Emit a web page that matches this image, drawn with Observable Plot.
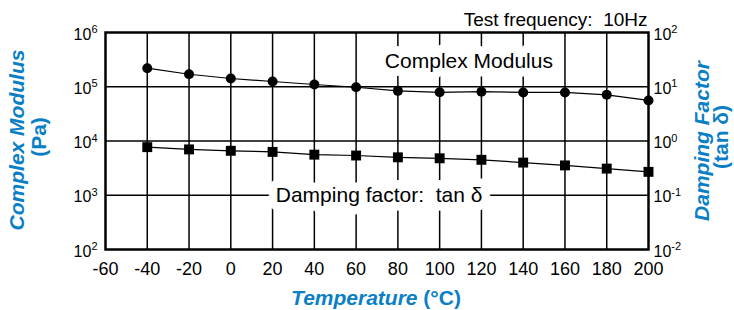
<!DOCTYPE html>
<html><head><meta charset="utf-8">
<script src="https://cdn.jsdelivr.net/npm/d3@7"></script>
<script src="https://cdn.jsdelivr.net/npm/@observablehq/plot@0.6"></script>
<style>body{margin:0;background:#fff;} svg{display:block;}</style>
</head><body><div id="chart"></div>
<script>
// ---- data ----
const temperatures = [-40, -20, 0, 20, 40, 60, 80, 100, 120, 140, 160, 180, 200];
const complexModulus = [2.2e5, 1.7e5, 1.42e5, 1.25e5, 1.1e5, 9.8e4, 8.4e4, 7.9e4, 8.1e4, 7.85e4, 7.85e4, 7.1e4, 5.6e4]; // Pa
const tanDelta = [0.77, 0.70, 0.66, 0.63, 0.56, 0.54, 0.50, 0.48, 0.45, 0.40, 0.355, 0.31, 0.27];
const xTicks = [-60, -40, -20, 0, 20, 40, 60, 80, 100, 120, 140, 160, 180, 200];
const xGrid = [-40, -20, 0, 20, 40, 60, 80, 100, 120, 140, 160, 180];
const modulusTicks = [1e2, 1e3, 1e4, 1e5, 1e6];
const yGrid = [1e3, 1e4, 1e5];
const tanDeltaOffset = 1e4; // right axis 10^-2..10^2 maps to left axis 10^2..10^6
const seriesLabels = [
  {text: "Complex Modulus", temperature: 114, value: 2.9e5},
  {text: "Damping factor:  tan \u03b4", temperature: 71, value: 1e3}
];
const noteText = "Test frequency:  10Hz";

const BLUE = "#0b7fc6";
const FONT = "'Liberation Sans', Arial, Helvetica, sans-serif";

const modulusData = temperatures.map((t, i) => ({t, v: complexModulus[i]}));
const dampingData = temperatures.map((t, i) => ({t, v: tanDelta[i] * tanDeltaOffset}));

const plot = Plot.plot({
  width: 734,
  height: 310,
  marginLeft: 105,
  marginRight: 86,
  marginTop: 32,
  marginBottom: 61,
  style: {fontFamily: FONT, fontSize: "16px", color: "#000", background: "#fff"},
  x: {domain: [-60, 200]},
  y: {type: "log", domain: [1e2, 1e6]},
  marks: [
    Plot.gridX(xGrid, {stroke: "#000", strokeOpacity: 1, strokeWidth: 1.5}),
    Plot.gridY(yGrid, {stroke: "#000", strokeOpacity: 1, strokeWidth: 1.5}),
    Plot.axisX({ticks: xTicks, tickSize: 0, tickPadding: 13, fontSize: 18, label: null, tickFormat: d => String(d)}),
    Plot.axisY({ticks: modulusTicks, tickSize: 0, tickPadding: 8, label: null, dy: 2,
      tickFormat: d => "10^" + Math.round(Math.log10(d))}),
    Plot.axisY({anchor: "right", ticks: modulusTicks, tickSize: 0, tickPadding: 5, label: null, dy: 2,
      tickFormat: d => "10^" + Math.round(Math.log10(d / tanDeltaOffset))}),
    Plot.text(seriesLabels, {x: "temperature", y: "value", text: "text", fontSize: 21,
      fill: "#000", stroke: "#fff", strokeWidth: 17}),
    Plot.line(modulusData, {x: "t", y: "v", stroke: "#000", strokeWidth: 1.2}),
    Plot.line(dampingData, {x: "t", y: "v", stroke: "#000", strokeWidth: 1.2}),
    Plot.dot(modulusData, {x: "t", y: "v", r: 5, fill: "#000", stroke: "none"}),
    Plot.dot(dampingData, {x: "t", y: "v", r: 5.6, symbol: "square", fill: "#000", stroke: "none"}),
    Plot.text([noteText], {frameAnchor: "top-right", text: d => d, textAnchor: "end", lineAnchor: "bottom",
      fontSize: 19, dy: -7, dx: -1}),
    Plot.frame({stroke: "#000", strokeWidth: 2.5})
  ]
});

// superscript exponents on the y tick labels
d3.select(plot).selectAll("text").each(function() {
  const s = this.textContent;
  if (!s.includes("^")) return;
  const [base, exp] = s.split("^");
  const t = d3.select(this);
  t.text(null);
  t.append("tspan").text(base);
  t.append("tspan").attr("font-size", 11).attr("dy", "-0.6em").text(exp);
});

const svg = d3.select(plot);
function title(x, y, rotate, parts) {
  const t = svg.append("text")
    .attr("transform", `translate(${x},${y})` + (rotate ? ` rotate(${rotate})` : ""))
    .attr("text-anchor", "middle")
    .attr("fill", BLUE)
    .attr("font-family", FONT)
    .attr("font-weight", "bold")
    .attr("font-size", 21);
  parts.forEach(([txt, italic]) => t.append("tspan").attr("font-style", italic ? "italic" : "normal").text(txt));
}
title(24, 140, -90, [["Complex Modulus", true]]);
title(46, 137, -90, [["(Pa)", false]]);
title(709, 141, -90, [["Damping Factor", true]]);
title(728, 137, -90, [["(tan \u03b4)", false]]);
title(376, 305, 0, [["Temperature ", true], ["(\u00b0C)", false]]);

document.getElementById("chart").appendChild(plot);
</script>
</body></html>
